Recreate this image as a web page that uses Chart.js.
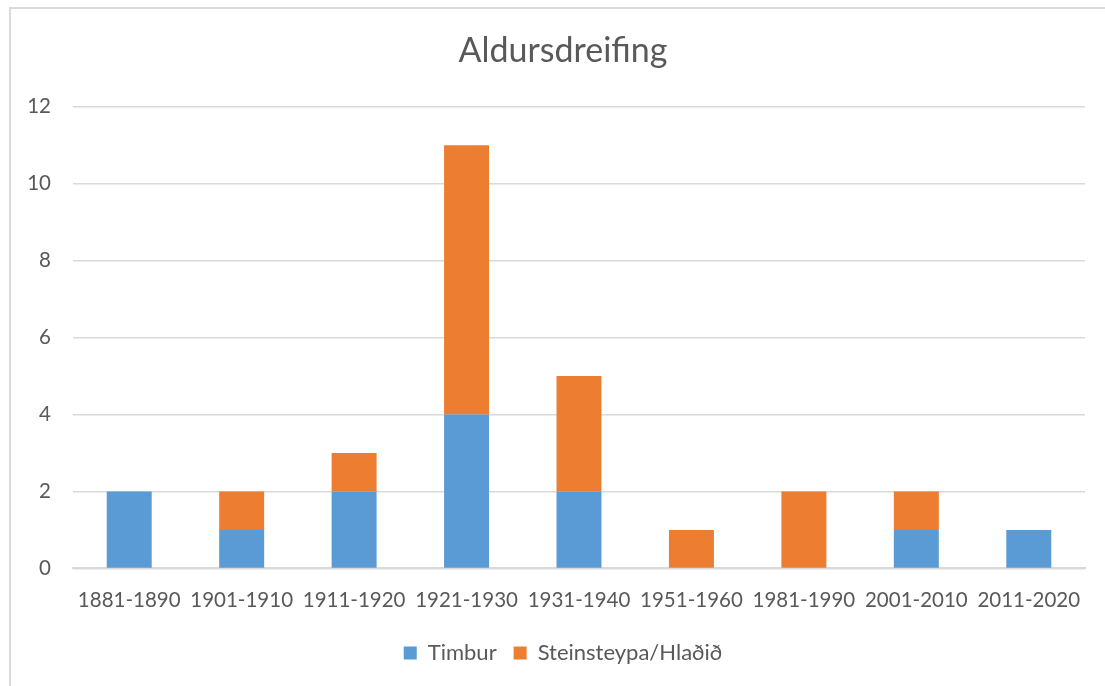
<!DOCTYPE html>
<html>
<head>
<meta charset="utf-8">
<script src="https://cdn.jsdelivr.net/npm/chart.js@4"></script>
<style>
html, body { margin: 0; padding: 0; background: #fff; overflow: hidden; }
#frame { position: absolute; left: 9px; top: 7px; width: 1200px; height: 800px; border: 2px solid #d9d9d9; }
#wrap { position: absolute; left: 0; top: 0; width: 1105px; height: 686px; overflow: hidden; }
</style>
</head>
<body>
<div id="frame"></div>
<div id="wrap"><canvas id="grafico" width="1136" height="686"></canvas></div>
<script>
const flokkar = ["1881-1890", "1901-1910", "1911-1920", "1921-1930", "1931-1940", "1951-1960", "1981-1990", "2001-2010", "2011-2020"];
const timbur = [2, 1, 2, 4, 2, 0, 0, 1, 1];
const steinsteypa = [0, 1, 1, 7, 3, 1, 2, 1, 0];

const letur = "Lato, 'Open Sans', sans-serif";
const litur = "#595959";

new Chart(document.getElementById("grafico"), {
  type: "bar",
  data: {
    labels: flokkar,
    datasets: [
      { label: "Timbur", data: timbur, backgroundColor: "#5b9bd5", barPercentage: 0.8, categoryPercentage: 0.5 },
      { label: "Steinsteypa/Hlaðið", data: steinsteypa, backgroundColor: "#ed7d31", barPercentage: 0.8, categoryPercentage: 0.5 }
    ]
  },
  options: {
    responsive: false,
    animation: false,
    layout: { padding: { left: 10, right: 20, top: 31, bottom: 12 } },
    plugins: {
      title: {
        display: true,
        text: "Aldursdreifing",
        color: litur,
        font: { family: letur, size: 34, weight: "normal" },
        padding: { top: 0, bottom: 35 }
      },
      legend: {
        position: "bottom",
        labels: {
          color: litur,
          font: { family: letur, size: 22 },
          boxWidth: 13,
          boxHeight: 13,
          padding: 17
        }
      },
      tooltip: { enabled: false }
    },
    scales: {
      x: {
        stacked: true,
        grid: { display: false },
        border: { color: "#d9d9d9", width: 2 },
        ticks: { color: litur, font: { family: letur, size: 20.5 }, padding: 12, maxRotation: 0 }
      },
      y: {
        stacked: true,
        min: 0,
        max: 12,
        grid: { color: "#d9d9d9", lineWidth: 1.5, drawTicks: false },
        border: { display: false },
        ticks: { stepSize: 2, color: litur, font: { family: letur, size: 20.5 }, padding: 22 },
        afterFit: axis => { axis.width = 63; }
      },
      hlid: {
        type: "linear",
        position: "right",
        min: 0,
        max: 1,
        grid: { display: false },
        border: { display: false },
        ticks: { display: false },
        afterFit: axis => { axis.width = 31; }
      }
    }
  }
});
</script>
</body>
</html>
